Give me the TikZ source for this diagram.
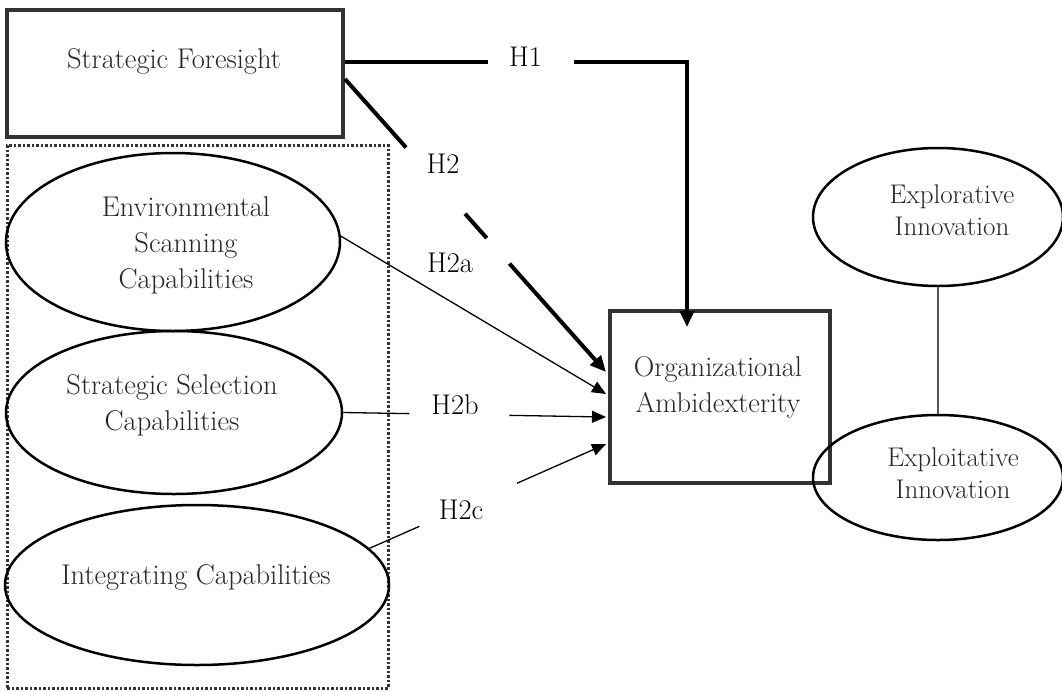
\documentclass[tikz,border=0pt]{standalone}
\usetikzlibrary{arrows.meta,shapes.geometric,calc}
\definecolor{bordc}{HTML}{333333}
\definecolor{txtc}{HTML}{262626}
\definecolor{linkc}{HTML}{555555}
\begin{document}
\begin{tikzpicture}[x=1pt,y=-1pt,
  txt/.style={font=\fontsize{28.5}{36}\selectfont, text=txtc, align=center, inner sep=0pt},
  txtb/.style={font=\fontsize{27}{32}\selectfont, text=txtc, align=center, inner sep=0pt},
  lbl/.style={font=\fontsize{28.5}{30}\selectfont, text=black, inner sep=0pt},
  box/.style={draw=bordc, line width=4pt, inner sep=0pt},
  ell/.style={draw=black, line width=2.5pt, ellipse, inner sep=0pt},
  grpbox/.style={draw=bordc, line width=3pt, dash pattern=on 2.5pt off 2pt, inner sep=0pt},
  thickline/.style={line width=4pt, draw=black},
  thinline/.style={line width=1.3pt, draw=black},
  bigtip/.style={-{Triangle[length=16pt,width=14pt]}},
  smalltip/.style={-{Triangle[length=14pt,width=12pt]}}]
\useasboundingbox (0,0) rectangle (1062,691);

% group box
\node[grpbox, minimum width=381, minimum height=543] (grp) at (197.5,416.5) {};

% boxes
\node[box, minimum width=336, minimum height=127] (sf) at (175,73.5) {};
\node[txt] (sft) at (174,61) {Strategic Foresight};
\node[box, minimum width=220, minimum height=172] (oa) at (720,397) {};
\node[txt] (oat) at (718,387) {Organizational\\Ambidexterity};

% left ellipses
\node[ell, minimum width=334, minimum height=178] (esc) at (173,242) {};
\node[txt] (esct) at (186,245) {Environmental\\Scanning\\Capabilities};
\node[ell, minimum width=336, minimum height=163] (ssc) at (174,412.5) {};
\node[txt] (ssct) at (172,405) {Strategic Selection\\Capabilities};
\node[ell, minimum width=384, minimum height=160] (ic) at (197,585) {};
\node[txt] (ict) at (196,577) {Integrating Capabilities};

% right ellipses
\node[ell, minimum width=250, minimum height=138] (ex) at (938,217) {};
\node[txtb] (ext) at (952,210) {Explorative\\Innovation};
\node[ell, minimum width=250, minimum height=125] (ei) at (938,477.5) {};
\node[txtb] (eit) at (953,473) {Exploitative\\Innovation};
\draw[linkc, line width=1.5pt] (ex.south) -- (ei.north);

% labels
\node[lbl] (h1l) at (525.5,56.5) {H1};
\node[lbl] (h2l) at (443,164) {H2};
\node[lbl] (h2al) at (450,263) {H2a};
\node[lbl] (h2bl) at (455,405) {H2b};
\node[lbl] (h2cl) at (461,510) {H2c};

% H1
\coordinate (h1s) at ([yshift=11.5pt]sf.east);
\coordinate (h1g1) at (488,62);
\coordinate (h1g2) at (574,62);
\coordinate (h1e) at ([xshift=-33pt,yshift=-18pt]oa.north);
\draw[thickline] (h1s) -- (h1g1);
\draw[thickline, bigtip] (h1g2) -| (h1e);

% H2
\coordinate (h2s) at ([yshift=-5.5pt]sf.east);
\coordinate (h2e) at ([xshift=-2pt,yshift=25pt]oa.west);
\draw[thickline] (h2s) -- ($(h2s)!0.234!(h2e)$);
\draw[thickline] ($(h2s)!0.46!(h2e)$) -- ($(h2s)!0.543!(h2e)$);
\draw[thickline, bigtip] ($(h2s)!0.63!(h2e)$) -- (h2e);

% H2a
\coordinate (h2ae) at ([xshift=-2pt,yshift=3pt]oa.west);
\draw[thinline, smalltip] (esc.2) -- (h2ae);

% H2b
\coordinate (h2bs) at (ssc.east);
\coordinate (h2be) at ([xshift=-2pt,yshift=-20pt]oa.west);
\draw[thinline] (h2bs) -- ($(h2bs)!0.252!(h2be)$);
\draw[thinline, smalltip] ($(h2bs)!0.632!(h2be)$) -- (h2be);

% H2c
\coordinate (h2cs) at (ic.12.7);
\coordinate (h2ce) at ([xshift=-2pt,yshift=-47pt]oa.west);
\draw[thinline] (h2cs) -- ($(h2cs)!0.211!(h2ce)$);
\draw[thinline, smalltip] ($(h2cs)!0.624!(h2ce)$) -- (h2ce);
\end{tikzpicture}
\end{document}
